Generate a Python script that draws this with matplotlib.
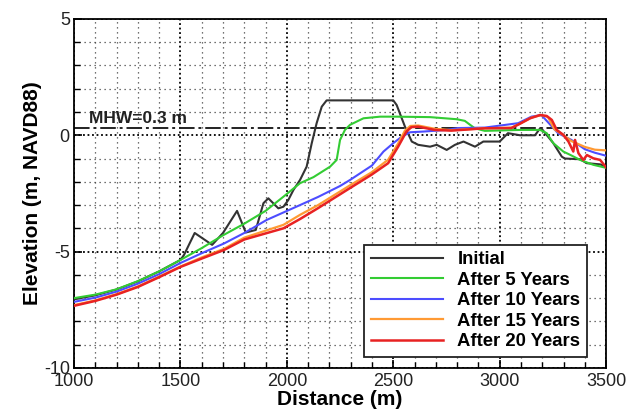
import numpy as np
import matplotlib
matplotlib.use('Agg')
import matplotlib.pyplot as plt
from matplotlib.ticker import MultipleLocator

plt.rcParams['font.family'] = ['Liberation Sans', 'DejaVu Sans']
plt.rcParams['axes.unicode_minus'] = False

# profile data (distance m, elevation m NAVD88)
x_init = [1000, 1100, 1200, 1300, 1400, 1500, 1517, 1567, 1649, 1700, 1766, 1807, 1854, 1890,
          1913, 1960, 1984, 2007, 2031, 2062, 2093, 2117, 2140, 2164, 2187, 2500, 2516, 2555,
          2587, 2617, 2673, 2704, 2751, 2790, 2830, 2884, 2923, 3000, 3039, 3096, 3166, 3190,
          3200, 3252, 3292, 3306, 3378, 3409, 3472, 3500]
y_init = [-7.05, -6.88, -6.63, -6.28, -5.85, -5.36, -5.14, -4.2, -4.71, -4.2, -3.25, -4.18, -4.07, -2.92,
          -2.71, -3.14, -3.07, -2.78, -2.35, -1.92, -1.35, -0.34, 0.52, 1.23, 1.5, 1.5, 1.3, 0.37,
          -0.27, -0.41, -0.49, -0.41, -0.63, -0.41, -0.27, -0.49, -0.27, -0.27, 0.09, 0.0, 0.0, 0.3,
          0.25, -0.34, -0.92, -1.0, -1.03, -1.2, -1.25, -1.35]

x_5yr = [1000, 1100, 1200, 1300, 1400, 1500, 1600, 1700, 1800, 1900, 1984, 2062, 2125, 2203,
         2234, 2250, 2273, 2297, 2360, 2438, 2516, 2673, 2798, 2836, 2883, 2930, 3096, 3190,
         3221, 3252, 3299, 3331, 3378, 3440, 3500]
y_5yr = [-7.0, -6.85, -6.62, -6.27, -5.85, -5.36, -4.85, -4.3, -3.8, -3.25, -2.64, -2.06, -1.8, -1.35,
         -1.06, -0.2, 0.23, 0.45, 0.73, 0.8, 0.8, 0.78, 0.69, 0.62, 0.3, 0.19, 0.23, 0.23,
         0.09, -0.34, -0.7, -0.84, -1.06, -1.27, -1.4]

x_10yr = [1000, 1100, 1200, 1300, 1400, 1500, 1600, 1705, 1800, 1905, 2062, 2147, 2250, 2297,
          2400, 2454, 2500, 2540, 2579, 2642, 2751, 2805, 2930, 3087, 3149, 3196, 3227, 3274,
          3337, 3400, 3447, 3500]
y_10yr = [-7.16, -6.98, -6.72, -6.38, -5.97, -5.49, -5.07, -4.65, -4.2, -3.64, -3.0, -2.65, -2.18, -1.92,
          -1.3, -0.7, -0.34, -0.06, 0.13, 0.16, 0.23, 0.31, 0.33, 0.52, 0.8, 0.87, 0.56, 0.09,
          -0.2, -0.6, -0.75, -0.88]

x_15yr = [1000, 1100, 1200, 1300, 1400, 1500, 1600, 1705, 1800, 1984, 2062, 2147, 2297, 2397,
          2476, 2523, 2555, 2580, 2617, 2695, 2773, 2930, 3055, 3096, 3149, 3196, 3227, 3258,
          3300, 3337, 3400, 3447, 3500]
y_15yr = [-7.3, -7.1, -6.83, -6.5, -6.08, -5.64, -5.25, -4.88, -4.4, -3.85, -3.42, -3.0, -2.15, -1.6,
          -1.05, -0.35, 0.2, 0.4, 0.42, 0.28, 0.22, 0.3, 0.33, 0.5, 0.76, 0.87, 0.78, 0.25,
          0.0, -0.25, -0.5, -0.62, -0.65]

x_20yr = [1000, 1100, 1200, 1300, 1400, 1500, 1600, 1705, 1800, 1984, 2062, 2147, 2300, 2397,
          2476, 2523, 2562, 2585, 2617, 2695, 2773, 2930, 3055, 3096, 3143, 3190, 3221, 3245,
          3268, 3299, 3323, 3346, 3354, 3370, 3393, 3410, 3440, 3472, 3500]
y_20yr = [-7.33, -7.12, -6.85, -6.52, -6.1, -5.66, -5.3, -4.93, -4.48, -4.0, -3.6, -3.13, -2.25, -1.7,
          -1.2, -0.49, 0.16, 0.35, 0.37, 0.23, 0.2, 0.3, 0.31, 0.5, 0.73, 0.87, 0.83, 0.66,
          0.23, 0.02, -0.27, -0.7, -0.2, -0.77, -1.06, -0.85, -0.99, -1.06, -1.38]

mhw = 0.3

fig = plt.figure(figsize=(6.38, 4.12), dpi=100)
ax = fig.add_axes([0.116, 0.107, 0.834, 0.847])

# grid: fine dotted every 100 m / 1 m, heavier at major ticks
ax.xaxis.set_major_locator(MultipleLocator(500))
ax.xaxis.set_minor_locator(MultipleLocator(100))
ax.yaxis.set_major_locator(MultipleLocator(5))
ax.yaxis.set_minor_locator(MultipleLocator(1))
ax.grid(which='minor', color='#444444', linestyle=(0, (1, 3)), linewidth=0.9)
ax.grid(which='major', color='black', linestyle=(0, (1, 1.5)), linewidth=1.3)

ax.axhline(mhw, color='#222222', linestyle=(0, (8, 2, 1.5, 2)), linewidth=1.4, zorder=2)
ax.text(1070, mhw + 0.12, 'MHW=0.3 m', fontsize=12.5, fontweight='bold', color='#222222',
        va='bottom', ha='left')

ax.plot(x_init, y_init, color='#333333', lw=1.5, label='Initial', zorder=3)
ax.plot(x_5yr, y_5yr, color='#33cc33', lw=1.5, label='After 5 Years', zorder=3)
ax.plot(x_10yr, y_10yr, color='#4d4dff', lw=1.5, label='After 10 Years', zorder=3)
ax.plot(x_15yr, y_15yr, color='#ff9a33', lw=1.6, label='After 15 Years', zorder=3)
ax.plot(x_20yr, y_20yr, color='#e82222', lw=1.8, label='After 20 Years', zorder=4)

ax.set_xlim(1000, 3500)
ax.set_ylim(-10, 5)
ax.set_xticks([1000, 1500, 2000, 2500, 3000, 3500])
ax.set_yticks([-10, -5, 0, 5])
ax.tick_params(which='both', direction='in', top=False, right=False, labelsize=13, colors='black')
ax.tick_params(which='major', length=6, width=1.2)
ax.tick_params(which='minor', length=4, width=1.0)
ax.tick_params(axis='x', labelcolor='#222222', pad=4)
ax.tick_params(axis='y', labelcolor='#222222', pad=3)
for s in ax.spines.values():
    s.set_linewidth(1.3)

ax.set_xlabel('Distance (m)', fontsize=15, fontweight='bold', labelpad=0)
ax.set_ylabel('Elevation (m, NAVD88)', fontsize=15, fontweight='bold', labelpad=1)

leg = ax.legend(loc='lower right', bbox_to_anchor=(0.964, 0.032), borderaxespad=0,
                fancybox=False, framealpha=1, edgecolor='#222222', handlelength=3.9,
                handletextpad=0.8, labelspacing=0.19, borderpad=0.35,
                prop={'weight': 'bold', 'size': 13.3})
leg.get_frame().set_linewidth(1.3)

fig.savefig('out.png', dpi=100)
